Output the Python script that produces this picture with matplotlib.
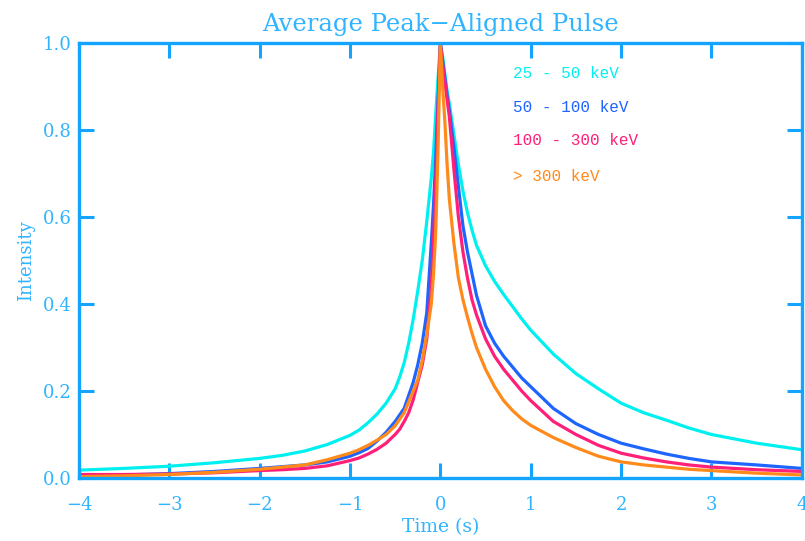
import numpy as np
import matplotlib
matplotlib.use("Agg")
import matplotlib.pyplot as plt

# time grid (s)
t_left = [-4, -3.5, -3, -2.5, -2, -1.75, -1.5, -1.25, -1, -0.9, -0.8, -0.7, -0.6, -0.5, -0.45,
          -0.4, -0.35, -0.3, -0.25, -0.2, -0.15, -0.1, -0.075, -0.05, -0.025]
t_right = [0.025, 0.05, 0.075, 0.1, 0.15, 0.2, 0.25, 0.3, 0.35, 0.4, 0.5, 0.6, 0.7, 0.8, 0.9,
           1.0, 1.25, 1.5, 1.75, 2, 2.25, 2.5, 2.75, 3, 3.5, 4]
time = t_left + [0] + t_right

labels = ["25 - 50 keV", "50 - 100 keV", "100 - 300 keV", "> 300 keV"]
colors = ["#00f0f0", "#1e64ff", "#ff1f78", "#ff8a1c"]

cyan = ([0.018, 0.022, 0.027, 0.035, 0.045, 0.052, 0.062, 0.077, 0.098, 0.11, 0.127, 0.147, 0.172,
         0.205, 0.232, 0.265, 0.31, 0.365, 0.43, 0.50, 0.59, 0.69, 0.75, 0.84, 0.92]
        + [1.0]
        + [0.97, 0.93, 0.89, 0.86, 0.79, 0.72, 0.66, 0.61, 0.57, 0.535, 0.488, 0.452, 0.422, 0.394,
           0.366, 0.34, 0.285, 0.24, 0.205, 0.172, 0.15, 0.133, 0.115, 0.10, 0.08, 0.065])
blue = ([0.005, 0.007, 0.010, 0.015, 0.022, 0.026, 0.030, 0.037, 0.050, 0.058, 0.068, 0.085, 0.105,
         0.13, 0.145, 0.16, 0.19, 0.22, 0.26, 0.31, 0.38, 0.54, 0.63, 0.74, 0.87]
        + [1.0]
        + [0.96, 0.92, 0.88, 0.845, 0.76, 0.67, 0.58, 0.52, 0.47, 0.42, 0.35, 0.31, 0.28, 0.255,
           0.23, 0.21, 0.16, 0.125, 0.10, 0.08, 0.067, 0.055, 0.045, 0.037, 0.030, 0.022])
pink = ([0.008, 0.008, 0.009, 0.012, 0.017, 0.019, 0.022, 0.028, 0.040, 0.046, 0.055, 0.066, 0.080,
         0.10, 0.112, 0.13, 0.15, 0.18, 0.22, 0.26, 0.32, 0.44, 0.55, 0.69, 0.85]
        + [1.0]
        + [0.95, 0.91, 0.87, 0.83, 0.71, 0.60, 0.52, 0.46, 0.41, 0.375, 0.32, 0.28, 0.25, 0.225,
           0.20, 0.178, 0.13, 0.10, 0.075, 0.057, 0.046, 0.037, 0.030, 0.025, 0.019, 0.015])
orange = ([0.003, 0.005, 0.008, 0.013, 0.020, 0.025, 0.030, 0.042, 0.057, 0.065, 0.075, 0.087, 0.10,
           0.12, 0.135, 0.15, 0.175, 0.20, 0.225, 0.27, 0.33, 0.40, 0.47, 0.57, 0.76]
          + [1.0]
          + [0.90, 0.82, 0.72, 0.64, 0.54, 0.46, 0.41, 0.37, 0.333, 0.30, 0.25, 0.21, 0.178, 0.155,
             0.136, 0.121, 0.093, 0.07, 0.05, 0.037, 0.030, 0.025, 0.020, 0.017, 0.011, 0.007])
series = [cyan, blue, pink, orange]

xticks = [-4, -3, -2, -1, 0, 1, 2, 3, 4]
yticks = [0.0, 0.2, 0.4, 0.6, 0.8, 1.0]

AX = "#12a4ff"
TX = "#30b4ff"

fig = plt.figure(figsize=(8.05, 5.41), dpi=100)
ax = fig.add_axes([0.098, 0.1165, 0.898, 0.804])

for y, c in zip(series, colors):
    ax.plot(time, y, color=c, lw=2.3, solid_joinstyle="round")

ax.set_xlim(-4, 4)
ax.set_ylim(0, 1.0)
ax.set_xticks(xticks)
ax.set_xticklabels([str(v).replace("-", "\u2212") for v in xticks])
ax.set_yticks(yticks)
ax.set_yticklabels(["%.1f" % v for v in yticks])

for s in ax.spines.values():
    s.set_color(AX)
    s.set_linewidth(2.4)
ax.tick_params(direction="in", length=11, width=2.2, color=AX, labelcolor=TX,
               top=True, right=True, labelsize=13)
ax.tick_params(axis="x", pad=13)
ax.tick_params(axis="y", pad=5)
for lab in ax.get_xticklabels() + ax.get_yticklabels():
    lab.set_family("DejaVu Serif")

ax.set_xlabel("Time (s)", color=TX, fontsize=13.5, family="DejaVu Serif", labelpad=3)
ax.set_ylabel("Intensity", color=TX, fontsize=13, family="DejaVu Serif", labelpad=6)
ax.set_title("Average Peak\u2212Aligned Pulse", color=TX, fontsize=17.5, family="DejaVu Serif", pad=9)

ypos = [0.931, 0.851, 0.775, 0.692]
for lab, c, yp in zip(labels, colors, ypos):
    ax.text(0.600, yp, lab, color=c, fontsize=11.5, family="Liberation Mono",
            transform=ax.transAxes, ha="left", va="center")

fig.savefig("out.png", dpi=100)
